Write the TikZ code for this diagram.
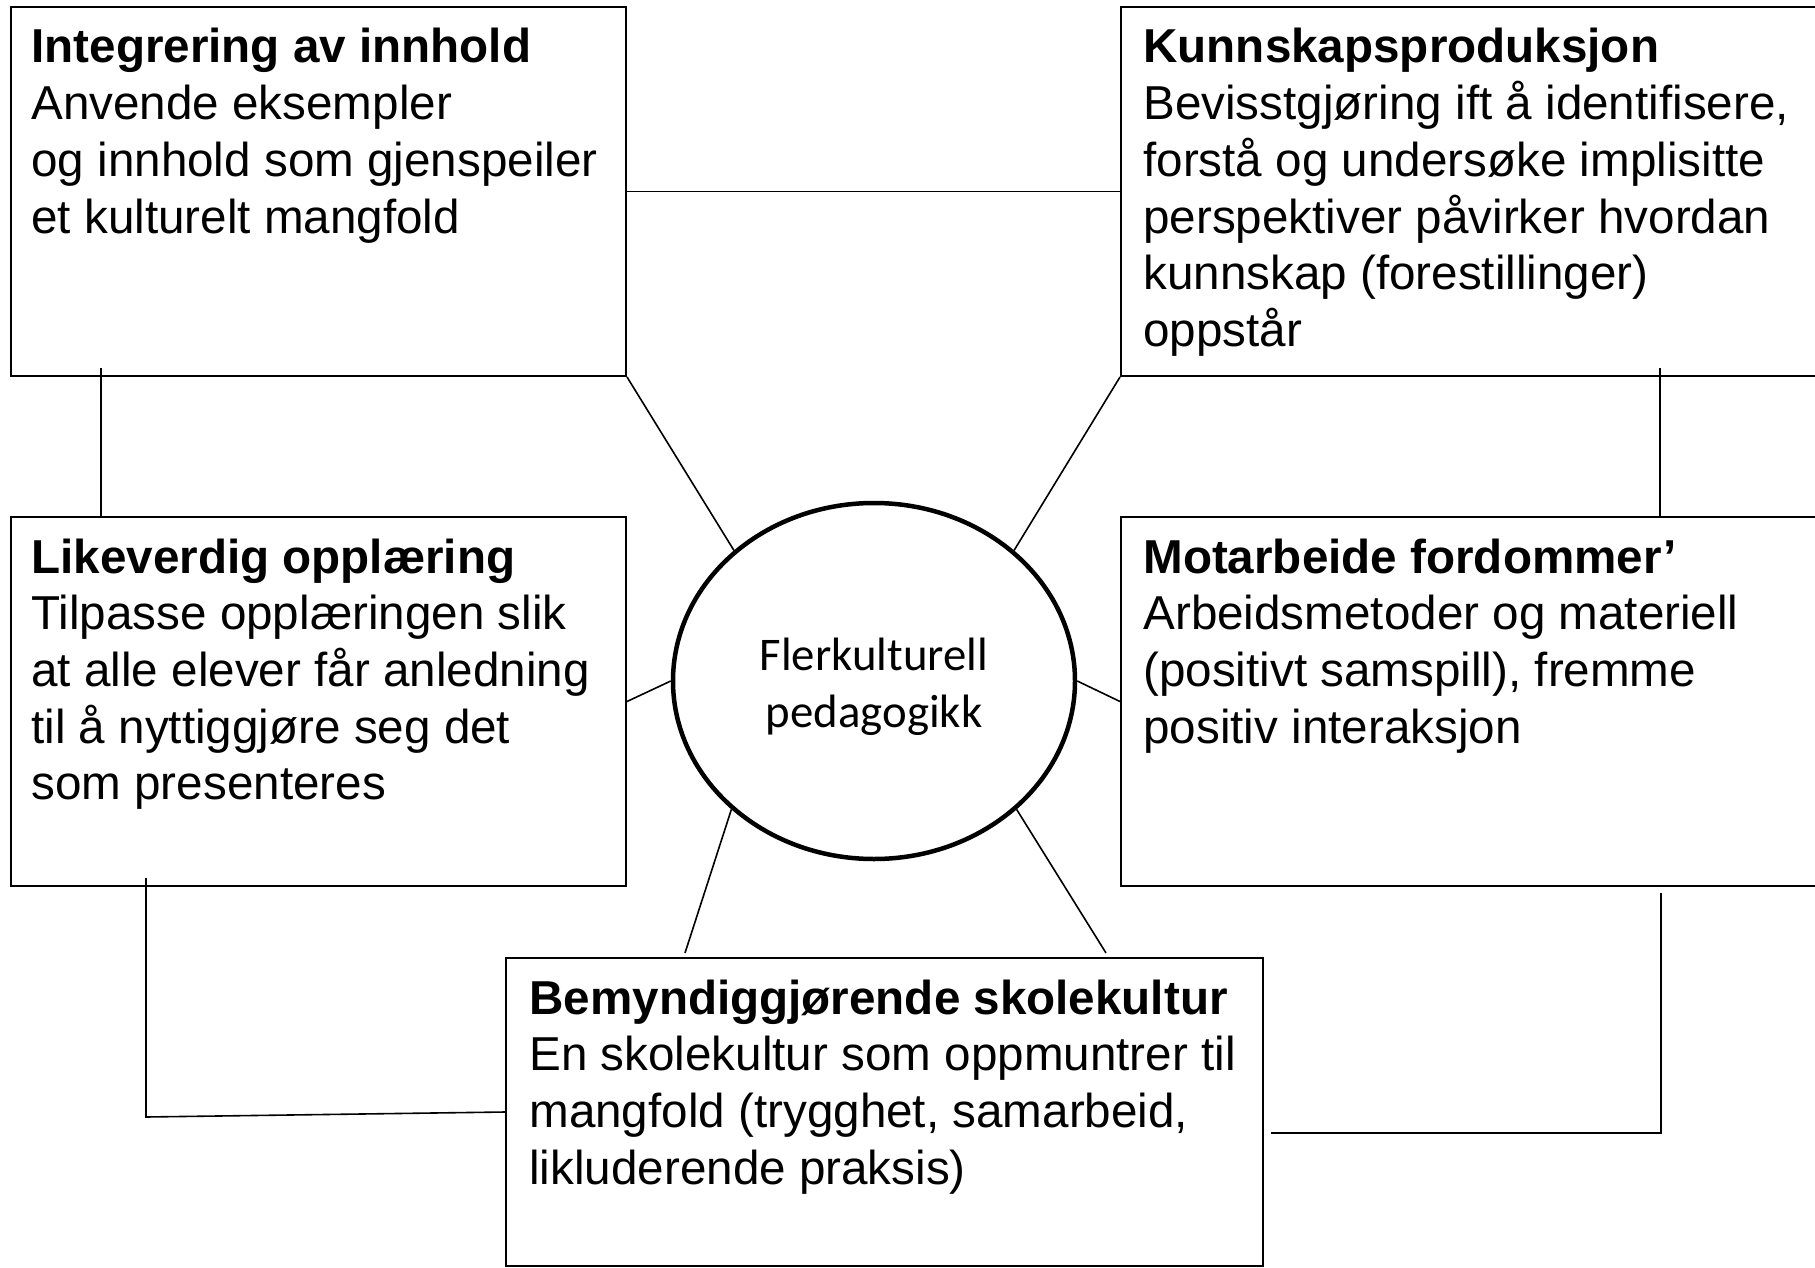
\documentclass[tikz,border=0pt]{standalone}
\usepackage{fontspec}
\setmainfont{Liberation Sans}
\newfontfamily\calibrifont{Carlito}
\usetikzlibrary{fit,shapes.geometric}
\newcommand\txtlines[1]{\vtop{\baselineskip=28.35pt\relax #1}}
\begin{document}
\begin{tikzpicture}[x=0.5pt,y=-0.5pt,
  box/.style={draw,line width=1pt,inner sep=0pt,rectangle},
  txt/.style={anchor=base west,inner sep=0pt,font=\fontsize{23.8}{28.35}\selectfont},
  link/.style={line width=0.8pt}]
\useasboundingbox (0,0) rectangle (1815,1268);
\clip (0,0) rectangle (1815,1268);
% boxes
\node[box,fit={(11,7) (626,376)}] (b1) {};
\node[box,fit={(1121,7) (1840,376)}] (b2) {};
\node[box,fit={(11,517) (626,886)}] (b3) {};
\node[box,fit={(1121,517) (1840,886)}] (b4) {};
\node[box,fit={(506,958) (1263,1266)}] (b5) {};
\node[ellipse,draw,line width=2.25pt,inner sep=0pt,minimum width=201pt,minimum height=178pt] (e) at (874,681) {};
% texts
\node[txt] (t1) at (31,63) {\txtlines{\hbox{\bfseries Integrering av innhold}\hbox{Anvende eksempler}\hbox{og innhold som gjenspeiler}\hbox{et kulturelt mangfold}}};
\node[txt] (t2) at (1143,63) {\txtlines{\hbox{\bfseries Kunnskapsproduksjon}\hbox{Bevisstgjøring ift å identifisere,}\hbox{forstå og undersøke implisitte}\hbox{perspektiver påvirker hvordan}\hbox{kunnskap (forestillinger)}\hbox{oppstår}}};
\node[txt] (t3) at (31,573) {\txtlines{\hbox{\bfseries Likeverdig opplæring}\hbox{Tilpasse opplæringen slik}\hbox{at alle elever får anledning}\hbox{til å nyttiggjøre seg det}\hbox{som presenteres}}};
\node[txt] (t4) at (1143,573) {\txtlines{\hbox{\bfseries Motarbeide fordommer’}\hbox{Arbeidsmetoder og materiell}\hbox{(positivt samspill), fremme}\hbox{positiv interaksjon}}};
\node[txt] (t5) at (529,1014) {\txtlines{\hbox{\bfseries Bemyndiggjørende skolekultur}\hbox{En skolekultur som oppmuntrer til}\hbox{mangfold (trygghet, samarbeid,}\hbox{likluderende praksis)}}};
\node[anchor=base,inner sep=0pt,font=\calibrifont\fontsize{23.4}{28.5}\selectfont] (te) at (874,670)
  {\vtop{\baselineskip=28.5pt\relax\hbox to 0pt{\hss Flerkulturell\hss}\hbox to 0pt{\hss pedagogikk\hss}}};
% connectors
\draw[link] (b1.east) -- (b2.west);
\draw[link] (b1.south east) -- (e.137);
\draw[link] (b2.south west) -- (e.43);
\draw[link] (b3.east) -- (e.west);
\draw[link] (b4.west) -- (e.east);
\coordinate (c1) at (685,953);
\coordinate (c2) at (1106,953);
\draw[link] (e.222) -- (c1);
\draw[link] (e.318) -- (c2);
\coordinate (v1) at (101,368);
\draw[link] (v1) -- (v1 |- b3.north);
\coordinate (v2) at (1660,368);
\draw[link] (v2) -- (v2 |- b4.north);
\coordinate (v3) at (146,878);
\coordinate (v3b) at (146,1117);
\draw[link] (v3) -- (v3b) -- (b5.west);
\coordinate (v4) at (1661,893);
\coordinate (h4) at (1271,1133);
\draw[link] (v4) |- (h4);
\end{tikzpicture}
\end{document}
